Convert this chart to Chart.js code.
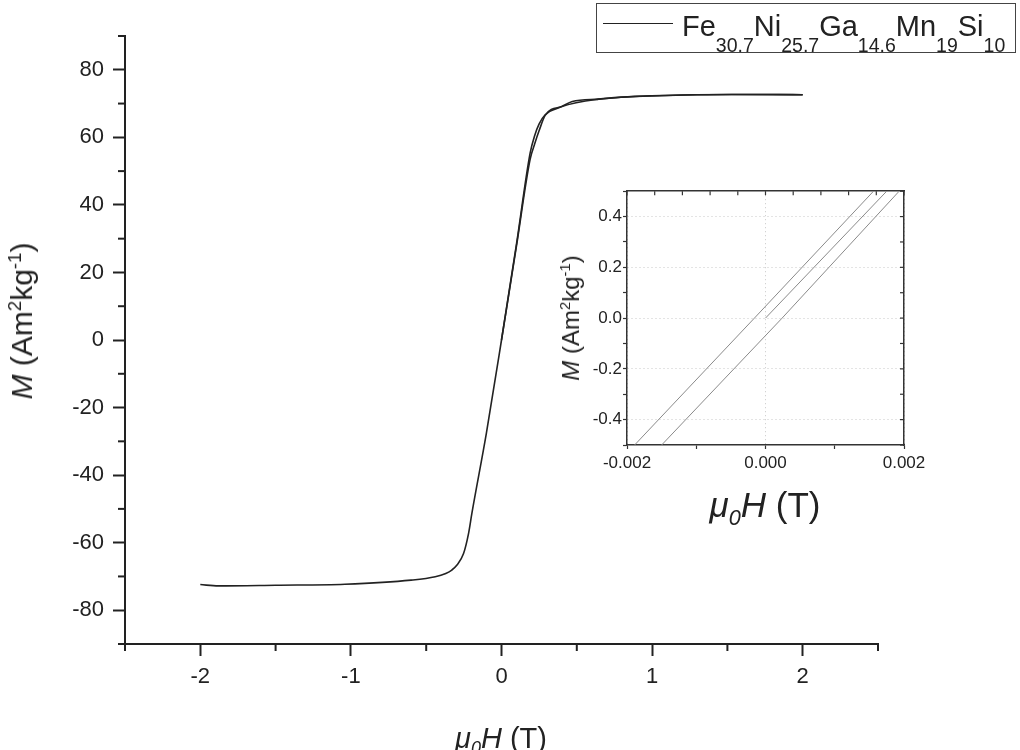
<!DOCTYPE html>
<html>
<head>
<meta charset="utf-8">
<script src="https://cdn.jsdelivr.net/npm/chart.js@4/dist/chart.umd.min.js"></script>
<style>
  html, body { margin: 0; padding: 0; background: #fff; overflow: hidden; }
  #wrap { position: relative; width: 1020px; height: 750px; font-family: "Liberation Sans", Arial, sans-serif; color: #222; }
  #main { position: absolute; left: 0; top: 0; }
  #inset { position: absolute; left: 530px; top: 180px; }
  .lbl { position: absolute; white-space: nowrap; line-height: 1; }
  .lbl sup { font-size: 0.62em; vertical-align: 0.6em; line-height: 0; }
  .lbl sub { font-size: 0.62em; vertical-align: -0.35em; line-height: 0; }
  #legend { position: absolute; left: 596px; top: 3px; width: 420px; height: 50px; border: 1.5px solid #444; box-sizing: border-box; }
  #legend .swatch { position: absolute; left: 6px; top: 19px; width: 70px; height: 0; border-top: 1.5px solid #222; }
  #legend .txt { position: absolute; left: 85px; top: 8px; font-size: 29px; line-height: 29px; white-space: nowrap; }
  #legend .txt sub { font-size: 19.5px; vertical-align: -16px; line-height: 0; }
</style>
</head>
<body>
<div id="wrap">
  <canvas id="main" width="1020" height="750"></canvas>
  <canvas id="inset" width="400" height="360"></canvas>

  <div id="legend">
    <div class="swatch"></div>
    <div class="txt">Fe<sub>30.7</sub>Ni<sub>25.7</sub>Ga<sub>14.6</sub>Mn<sub>19</sub>Si<sub>10</sub></div>
  </div>

  <div class="lbl" id="yTitle" style="left:22px;top:321px;font-size:30px;transform:translate(-50%,-50%) rotate(-90deg);"><i>M</i> (Am<sup>2</sup>kg<sup>-1</sup>)</div>
  <div class="lbl" id="xTitle" style="left:501px;top:724px;font-size:29px;transform:translateX(-50%);"><i>&mu;<sub>0</sub>H</i> (T)</div>

  <div class="lbl" id="yTitleIn" style="left:571px;top:318px;font-size:24px;transform:translate(-50%,-50%) rotate(-90deg);"><i>M</i> (Am<sup>2</sup>kg<sup>-1</sup>)</div>
  <div class="lbl" id="xTitleIn" style="left:765px;top:487px;font-size:35px;transform:translateX(-50%);"><i>&mu;<sub>0</sub>H</i> (T)</div>
</div>

<script>
// main loop, field in T, magnetisation in Am2/kg
var loopField  = [-2.0, -1.88, -1.5, -1.04, -0.6, -0.44, -0.37, -0.33, -0.297, -0.252, -0.219, -0.197, -0.1, 0, 0.1, 0.19, 0.22, 0.25, 0.29, 0.4, 0.47, 0.645, 0.85, 1.09, 1.3, 1.53, 1.8, 2.0];
var loopMoment = [-72.4, -72.8, -72.6, -72.3, -71.1, -70.1, -69.1, -68.1, -66.7, -63.2, -57.3, -51.4, -27.5, 0, 28.5, 55.3, 60.5, 64.0, 66.7, 69.1, 70.6, 71.3, 72.0, 72.4, 72.6, 72.7, 72.7, 72.6];

// virgin curve
var virginField  = [0, 0.1, 0.19, 0.22, 0.25, 0.29, 0.4, 0.645, 1.09, 1.53, 2.0];
var virginMoment = [0, 28.0, 53.5, 58.0, 62.0, 66.5, 69.1, 71.3, 72.4, 72.7, 72.6];

// inset: low field zoom
var insetDownField  = [-0.00189, -0.00016, 0.00156];
var insetDownMoment = [-0.5, 0, 0.5];
var insetUpField    = [-0.0015, 0.00024, 0.00193];
var insetUpMoment   = [-0.5, 0, 0.5];
var insetVirginField  = [0, 0.00175];
var insetVirginMoment = [0, 0.5];

var mainYTicks = [-80, -60, -40, -20, 0, 20, 40, 60, 80];
var mainXTicks = [-2, -1, 0, 1, 2];
var insetYTicks = [-0.4, -0.2, 0.0, 0.2, 0.4];
var insetXTicks = [-0.002, 0.000, 0.002];

function pts(xs, ys) {
    var out = [];
    for (var i = 0; i < xs.length; i++) out.push({x: xs[i], y: ys[i]});
    return out;
}

function isIn(list, v) {
    for (var i = 0; i < list.length; i++) {
        if (Math.abs(list[i] - v) < 1e-9) return true;
    }
    return false;
}

// ticks the library does not draw: shorter minor ones and inward ones
function extraTicks(marks) {
    return {
        id: 'extraTicks',
        afterDraw: function (chart) {
            var ctx = chart.ctx;
            var area = chart.chartArea;
            marks.forEach(function (m) {
                var scale = chart.scales[m.scale];
                ctx.save();
                ctx.strokeStyle = m.color;
                ctx.lineWidth = m.width;
                scale.ticks.forEach(function (t) {
                    if (m.skip && isIn(m.skip, t.value)) return;
                    var p = scale.getPixelForValue(t.value);
                    ctx.beginPath();
                    if (scale.isHorizontal()) {
                        var y0 = m.edge === 'top' ? area.top : area.bottom;
                        ctx.moveTo(p, y0);
                        ctx.lineTo(p, y0 + m.len);
                    } else {
                        var x0 = m.edge === 'left' ? area.left : area.right;
                        ctx.moveTo(x0, p);
                        ctx.lineTo(x0 + m.len, p);
                    }
                    ctx.stroke();
                });
                ctx.restore();
            });
        }
    };
}

var font = '"Liberation Sans", Arial, sans-serif';
var ink = '#222';

var mainChart = new Chart(document.getElementById('main'), {
    type: 'line',
    data: {
        datasets: [
            { data: pts(virginField, virginMoment), borderColor: ink, borderWidth: 1.6, pointRadius: 0, cubicInterpolationMode: 'monotone' },
            { data: pts(loopField, loopMoment), borderColor: ink, borderWidth: 1.6, pointRadius: 0, cubicInterpolationMode: 'monotone' }
        ]
    },
    options: {
        responsive: false,
        animation: false,
        events: [],
        layout: { padding: { top: 36, right: 142, left: 0, bottom: 0 } },
        plugins: { legend: { display: false }, tooltip: { enabled: false } },
        scales: {
            x: {
                type: 'linear', min: -2.5, max: 2.5,
                afterFit: function (s) { s.height = 106; },
                border: { display: true, color: ink, width: 2 },
                grid: {
                    drawOnChartArea: false, tickLength: 12, tickWidth: 2,
                    tickColor: function (c) { return isIn(mainXTicks, c.tick.value) ? ink : 'rgba(0,0,0,0)'; }
                },
                ticks: {
                    stepSize: 0.5, autoSkip: false, maxRotation: 0, padding: 8,
                    color: ink, font: { family: font, size: 22 },
                    callback: function (v) { return isIn(mainXTicks, v) ? String(v) : ''; }
                }
            },
            y: {
                type: 'linear', min: -90, max: 90,
                afterFit: function (s) { s.width = 125; },
                border: { display: true, color: ink, width: 2 },
                grid: {
                    drawOnChartArea: false, tickLength: 12, tickWidth: 2,
                    tickColor: function (c) { return isIn(mainYTicks, c.tick.value) ? ink : 'rgba(0,0,0,0)'; }
                },
                ticks: {
                    stepSize: 10, autoSkip: false, padding: 9,
                    color: ink, font: { family: font, size: 22 },
                    callback: function (v) { return isIn(mainYTicks, v) ? String(v) : ''; }
                }
            }
        }
    },
    plugins: [extraTicks([
        { scale: 'x', edge: 'bottom', len: 7, color: ink, width: 2, skip: mainXTicks },
        { scale: 'y', edge: 'left', len: -7, color: ink, width: 2, skip: mainYTicks }
    ])]
});

var grey = '#8a8a8a';
var insetChart = new Chart(document.getElementById('inset'), {
    type: 'line',
    data: {
        datasets: [
            { data: pts(insetDownField, insetDownMoment), borderColor: grey, borderWidth: 1, pointRadius: 0 },
            { data: pts(insetUpField, insetUpMoment), borderColor: grey, borderWidth: 1, pointRadius: 0 },
            { data: pts(insetVirginField, insetVirginMoment), borderColor: grey, borderWidth: 1, pointRadius: 0 }
        ]
    },
    options: {
        responsive: false,
        animation: false,
        events: [],
        layout: { padding: { top: 11, right: 26, left: 0, bottom: 0 } },
        plugins: { legend: { display: false }, tooltip: { enabled: false } },
        scales: {
            x: {
                type: 'linear', position: 'bottom', min: -0.002, max: 0.002,
                afterFit: function (s) { s.height = 95; },
                border: { display: true, color: '#333', width: 1.5, dash: [1, 3] },
                grid: {
                    tickLength: 4, tickWidth: 1.2, tickColor: '#333',
                    color: function (c) { return isIn(insetXTicks, c.tick.value) ? '#c8c8c8' : 'rgba(0,0,0,0)'; }
                },
                ticks: {
                    stepSize: 0.001, autoSkip: false, maxRotation: 0, padding: 4,
                    color: ink, font: { family: font, size: 17 },
                    callback: function (v) { return isIn(insetXTicks, v) ? v.toFixed(3) : ''; }
                }
            },
            xTop: {
                type: 'linear', position: 'top', min: -0.002, max: 0.002,
                afterFit: function (s) { s.height = 0; },
                border: { display: true, color: '#333', width: 1.5 },
                grid: { display: false, drawTicks: false },
                ticks: { stepSize: 0.0004, display: false }
            },
            y: {
                type: 'linear', position: 'left', min: -0.5, max: 0.5,
                afterFit: function (s) { s.width = 97; },
                border: { display: true, color: '#333', width: 1.5, dash: [1, 3] },
                grid: {
                    tickLength: 4, tickWidth: 1.2, tickColor: '#333',
                    color: function (c) { return isIn(insetYTicks, c.tick.value) ? '#c8c8c8' : 'rgba(0,0,0,0)'; }
                },
                ticks: {
                    stepSize: 0.1, autoSkip: false, padding: 1,
                    color: ink, font: { family: font, size: 17 },
                    callback: function (v) { return isIn(insetYTicks, v) ? v.toFixed(1) : ''; }
                }
            },
            yR: {
                type: 'linear', position: 'right', min: -0.5, max: 0.5,
                afterFit: function (s) { s.width = 0; },
                border: { display: true, color: '#333', width: 1.5 },
                grid: { display: false, drawTicks: false },
                ticks: { stepSize: 0.1, display: false }
            }
        }
    },
    plugins: [extraTicks([
        { scale: 'yR', edge: 'right', len: -4, color: '#333', width: 1.2 },
        { scale: 'xTop', edge: 'top', len: 4, color: '#333', width: 1.2 }
    ])]
});
</script>
</body>
</html>
